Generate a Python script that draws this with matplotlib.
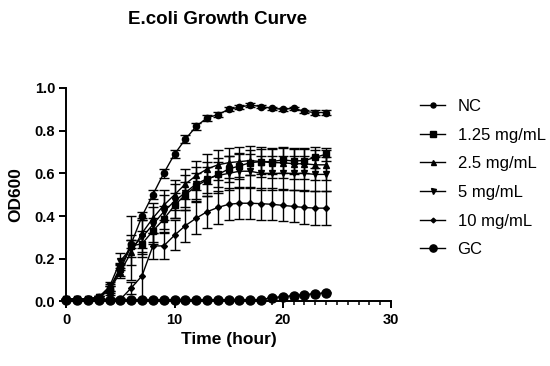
import numpy as np
import matplotlib
matplotlib.use("Agg")
import matplotlib.pyplot as plt
from matplotlib.ticker import MultipleLocator

plt.rcParams['font.family'] = ['Liberation Sans', 'DejaVu Sans']

hours = list(range(25))

nc = [0.01, 0.01, 0.01, 0.02, 0.06, 0.16, 0.27, 0.40, 0.50, 0.60, 0.69, 0.76, 0.82,
      0.86, 0.875, 0.90, 0.91, 0.92, 0.913, 0.905, 0.90, 0.905, 0.89, 0.885, 0.885]
nc_err = [0.003, 0.003, 0.003, 0.004, 0.01, 0.015, 0.02, 0.02, 0.02, 0.02, 0.02, 0.02, 0.015,
          0.015, 0.012, 0.01, 0.01, 0.01, 0.008, 0.008, 0.008, 0.008, 0.008, 0.01, 0.01]

c125 = [0.01, 0.01, 0.01, 0.02, 0.06, 0.15, 0.26, 0.27, 0.33, 0.385, 0.45, 0.50, 0.54,
        0.57, 0.595, 0.62, 0.635, 0.65, 0.655, 0.655, 0.663, 0.658, 0.66, 0.675, 0.69]
c125_err = [0.003, 0.003, 0.003, 0.005, 0.02, 0.03, 0.05, 0.06, 0.06, 0.06, 0.06, 0.06, 0.06,
            0.06, 0.06, 0.06, 0.06, 0.06, 0.06, 0.06, 0.06, 0.06, 0.06, 0.05, 0.03]

c25 = [0.01, 0.01, 0.01, 0.02, 0.05, 0.14, 0.23, 0.32, 0.39, 0.45, 0.50, 0.55, 0.59,
       0.62, 0.64, 0.65, 0.655, 0.66, 0.655, 0.65, 0.65, 0.645, 0.645, 0.64, 0.64]
c25_err = [0.003, 0.003, 0.003, 0.005, 0.02, 0.03, 0.06, 0.07, 0.07, 0.07, 0.07, 0.07, 0.07,
           0.07, 0.07, 0.07, 0.07, 0.07, 0.07, 0.07, 0.07, 0.07, 0.07, 0.07, 0.07]

c5 = [0.01, 0.01, 0.01, 0.02, 0.07, 0.19, 0.25, 0.30, 0.36, 0.42, 0.47, 0.51, 0.55,
      0.575, 0.59, 0.60, 0.61, 0.61, 0.60, 0.60, 0.60, 0.60, 0.60, 0.595, 0.595]
c5_err = [0.003, 0.003, 0.003, 0.005, 0.02, 0.035, 0.15, 0.08, 0.08, 0.08, 0.08, 0.08, 0.08,
          0.08, 0.08, 0.08, 0.08, 0.08, 0.08, 0.08, 0.08, 0.08, 0.08, 0.08, 0.08]

c10 = [0.01, 0.01, 0.01, 0.01, 0.01, 0.01, 0.063, 0.12, 0.26, 0.26, 0.31, 0.355, 0.39,
       0.42, 0.44, 0.455, 0.46, 0.46, 0.458, 0.455, 0.45, 0.445, 0.44, 0.437, 0.437]
c10_err = [0.003, 0.003, 0.003, 0.003, 0.003, 0.005, 0.03, 0.11, 0.06, 0.06, 0.07, 0.075, 0.075,
           0.075, 0.075, 0.075, 0.075, 0.075, 0.075, 0.075, 0.075, 0.075, 0.075, 0.078, 0.078]

gc = [0.008, 0.008, 0.008, 0.008, 0.008, 0.008, 0.008, 0.008, 0.008, 0.008, 0.008, 0.008, 0.008,
      0.008, 0.008, 0.008, 0.008, 0.008, 0.008, 0.018, 0.022, 0.027, 0.032, 0.036, 0.04]
gc_err = [0.002] * 25

labels = ['NC', '1.25 mg/mL', '2.5 mg/mL', '5 mg/mL', '10 mg/mL', 'GC']

fig = plt.figure(figsize=(5.5, 3.66), dpi=100)
ax = fig.add_axes([0.1205, 0.1765, 0.5905, 0.5831])

series = [(nc, nc_err, 'o', 4.5),
          (c125, c125_err, 's', 4.8),
          (c25, c25_err, '^', 4.5),
          (c5, c5_err, 'v', 4.5),
          (c10, c10_err, 'D', 3.0),
          (gc, gc_err, 'o', 6.5)]

lines = []
for (y, e, m, ms), lab in zip(series, labels):
    cont = ax.errorbar(hours, y, yerr=e, fmt='-' + m, color='black', ms=ms,
                       lw=1.0, elinewidth=1.0, capsize=3.5, capthick=1.0,
                       label=lab, clip_on=False)
    lines.append(cont[0])

ax.set_xlim(0, 30)
ax.set_ylim(0, 1.0)
ax.xaxis.set_major_locator(MultipleLocator(10))
ax.xaxis.set_minor_locator(MultipleLocator(1))
ax.yaxis.set_major_locator(MultipleLocator(0.2))
ax.yaxis.set_major_formatter(matplotlib.ticker.FormatStrFormatter('%.1f'))

for s in ['top', 'right']:
    ax.spines[s].set_visible(False)
for s in ['left', 'bottom']:
    ax.spines[s].set_linewidth(1.4)
ax.tick_params(which='major', length=5, width=1.4, labelsize=10.5, pad=3)
ax.tick_params(which='minor', length=3, width=1.1)
for lbl in ax.get_xticklabels() + ax.get_yticklabels():
    lbl.set_fontweight('bold')

ax.set_xlabel('Time (hour)', fontsize=12.5, fontweight='bold', labelpad=4)
ax.set_ylabel('OD600', fontsize=12.5, fontweight='bold', labelpad=8)

fig.text(217 / 550, 1 - 20 / 366, 'E.coli Growth Curve', fontsize=13.5,
         fontweight='bold', ha='center', va='center')

# legend shows only line + marker, no error bars
fig.legend(lines, labels, loc='upper left', bbox_to_anchor=(405 / 550, 1 - 84 / 366),
           frameon=False, fontsize=12, handlelength=1.5, handletextpad=0.75,
           labelspacing=0.82, markerscale=0.8)

fig.savefig('out.png', dpi=100)
